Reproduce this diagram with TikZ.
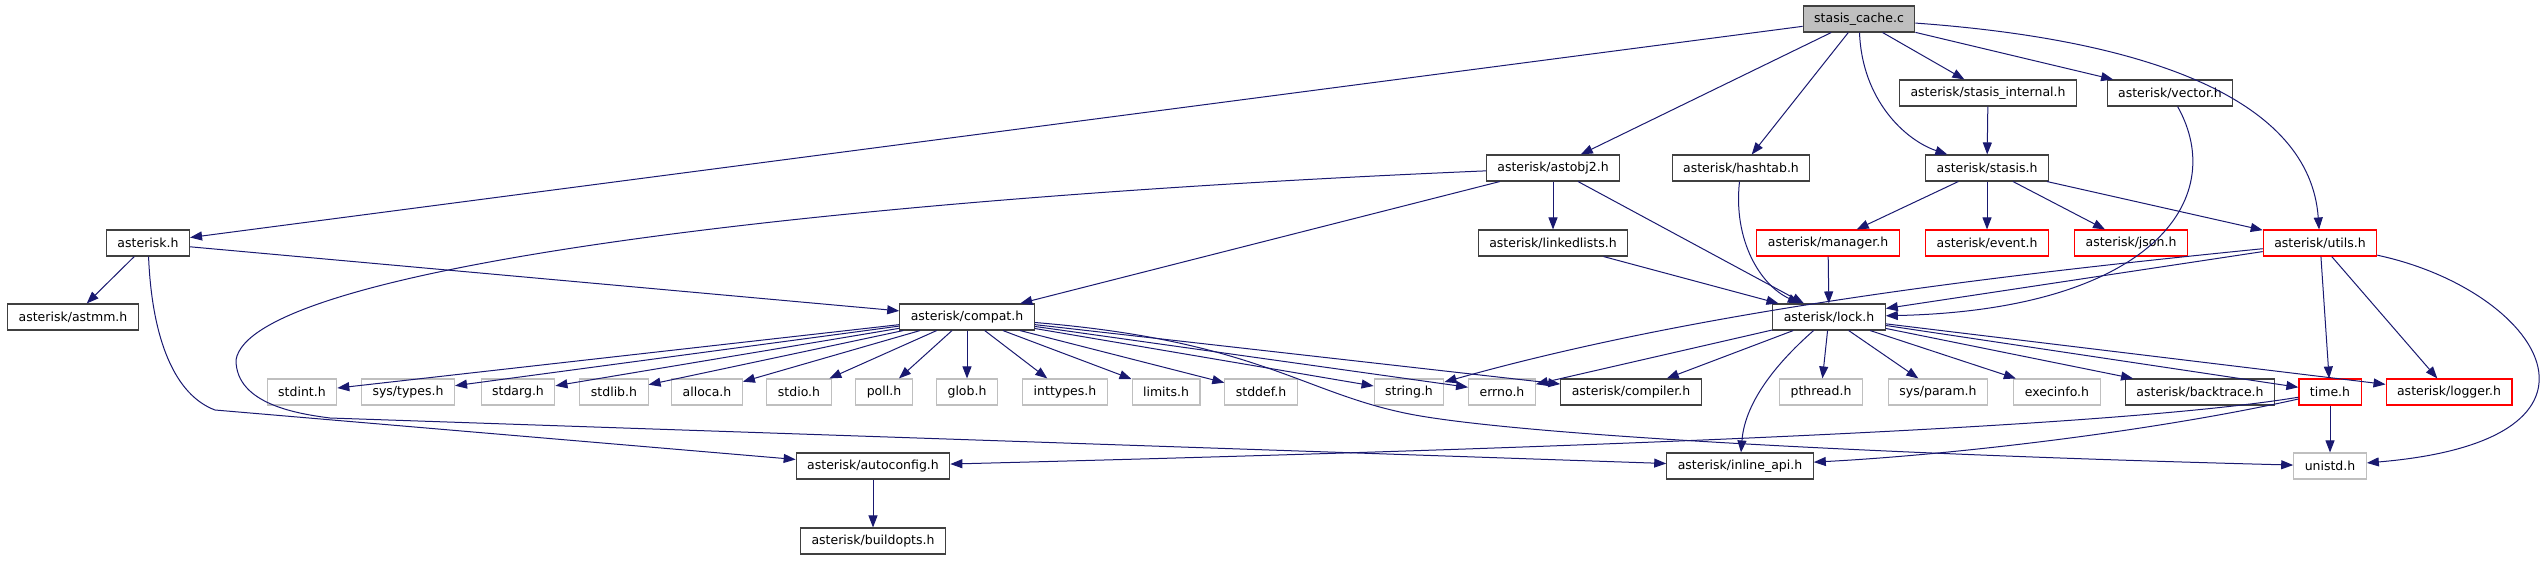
\documentclass[tikz,border=0pt]{standalone}
\usepackage{fontspec}
\setmainfont{DejaVu Sans}
\usetikzlibrary{arrows.meta}
\definecolor{depblue}{RGB}{25,25,112}
\definecolor{sysgray}{RGB}{191,191,191}
\definecolor{boxline}{RGB}{64,64,64}
\tikzset{
    hdrbox/.style={draw=boxline, line width=1.1pt, fill=white, minimum height=26pt,
        inner xsep=11pt, inner ysep=0pt},
    sysbox/.style={hdrbox, draw=sysgray},
    cutbox/.style={hdrbox, draw=red},
    rootbox/.style={hdrbox, fill=sysgray},
    dep/.style={draw=depblue, line width=1pt, -{Triangle[length=12pt,width=9pt]}}
}

\begin{document}
\begin{tikzpicture}[x=1pt, y=-1pt, font=\fontsize{12.5}{15}\selectfont]
    \useasboundingbox (0,0) rectangle (2542,560);
    \node[rootbox] (cache) at (1859,19) {stasis\_cache.c};
    \foreach \nm/\xx/\yy/\lbl in {
        internal/1988/93/{asterisk/stasis\_internal.h},
        vector/2170/93/{asterisk/vector.h},
        astobj/1553/168/{asterisk/astobj2.h},
        hashtab/1741/168/{asterisk/hashtab.h},
        stasis/1987/168/{asterisk/stasis.h},
        asterisk/148/243/{asterisk.h},
        linkedlists/1553/243/{asterisk/linkedlists.h},
        astmm/73/317/{asterisk/astmm.h},
        compat/967/317/{asterisk/compat.h},
        lock/1829/317/{asterisk/lock.h},
        compiler/1631/392/{asterisk/compiler.h},
        backtrace/2200/392/{asterisk/backtrace.h},
        autoconfig/873/466/{asterisk/autoconfig.h},
        inline/1740/466/{asterisk/inline\_api.h},
        buildopts/873/541/{asterisk/buildopts.h}}
        \node[hdrbox] (\nm) at (\xx,\yy) {\lbl};
    \foreach \nm/\xx/\yy/\lbl in {
        manager/1828/243/{asterisk/manager.h},
        event/1987/243/{asterisk/event.h},
        json/2131/243/{asterisk/json.h},
        utils/2320/243/{asterisk/utils.h},
        time/2330/392/{time.h},
        logger/2449/392/{asterisk/logger.h}}
        \node[cutbox] (\nm) at (\xx,\yy) {\lbl};
    \foreach \nm/\xx/\lbl in {
        stdint/302/{stdint.h}, systypes/408/{sys/types.h}, stdarg/518/{stdarg.h},
        stdlib/614/{stdlib.h}, alloca/707/{alloca.h}, stdio/799/{stdio.h},
        poll/884/{poll.h}, glob/967/{glob.h}, inttypes/1065/{inttypes.h},
        limits/1166/{limits.h}, stddef/1261/{stddef.h}, string/1409/{string.h},
        errno/1502/{errno.h}, pthread/1821/{pthread.h}, sysparam/1938/{sys/param.h},
        execinfo/2057/{execinfo.h}}
        \node[sysbox] (\nm) at (\xx,392) {\lbl};
    \node[sysbox] (unistd) at (2330,466) {unistd.h};

    \foreach \src/\dst in {
        cache/asterisk, cache/astobj, cache/hashtab, cache/internal, cache/vector,
        asterisk/astmm, asterisk/compat, astobj/compat, astobj/linkedlists, astobj/lock,
        internal/stasis, stasis/manager, stasis/event, stasis/json, stasis/utils,
        manager/lock, linkedlists/lock, utils/lock, utils/time, utils/logger,
        compat/stdint, compat/systypes, compat/stdarg, compat/stdlib, compat/alloca,
        compat/stdio, compat/poll, compat/glob, compat/inttypes, compat/limits,
        compat/stddef, compat/string, compat/errno, compat/compiler,
        lock/errno, lock/compiler, lock/pthread, lock/sysparam, lock/execinfo,
        lock/backtrace, lock/time, lock/logger, time/unistd, autoconfig/buildopts}
        \draw[dep] (\src) -- (\dst);

    \draw[dep] (cache) .. controls (1862,100) and (1905,140) .. (stasis);
    \draw[dep] (cache) .. controls (2150,40) and (2310,100) .. (utils);
    \draw[dep] (vector) .. controls (2230,200) and (2150,310) .. (lock);
    \draw[dep] (hashtab) .. controls (1733,240) and (1760,285) .. (lock);
    \draw[dep] (utils) .. controls (2000,275) and (1700,310) .. (string);
    \draw[dep] (utils) .. controls (2540,290) and (2640,440) .. (unistd);
    \draw[dep] (lock) .. controls (1780,360) and (1745,400) .. (inline);
    \draw[dep] (time) .. controls (2150,432) and (1950,455) .. (inline);
    \draw[dep] (time) .. controls (2100,430) and (1500,450) .. (autoconfig);
    \draw[dep] (asterisk) .. controls (152,340) and (175,395) .. (215,410) -- (autoconfig);
    \draw[dep] (astobj) .. controls (800,200) and (250,270) .. (236,360)
        .. controls (236,405) and (300,414) .. (330,418) -- (inline);
    \draw[dep] (compat) .. controls (1250,340) and (1300,390) .. (1400,412)
        .. controls (1500,435) and (1900,455) .. (unistd);
\end{tikzpicture}
\end{document}
